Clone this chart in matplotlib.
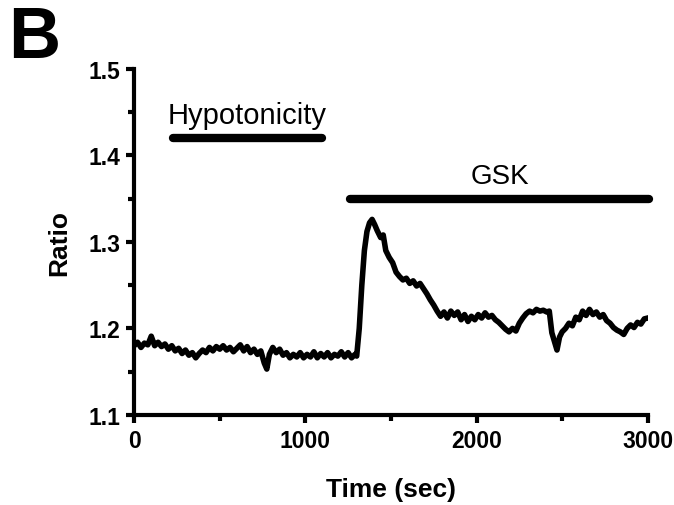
import matplotlib
matplotlib.use("Agg")
import matplotlib.pyplot as plt
from matplotlib.ticker import MultipleLocator

# trace (time in sec, fluorescence ratio)
time_sec = [0, 20, 40, 60, 80, 100, 120, 140, 160, 180, 200, 220, 240, 260, 280, 300,
            320, 340, 360, 380, 400, 420, 440, 460, 480, 500, 520, 540, 560, 580, 600,
            620, 640, 660, 680, 700, 720, 740, 760, 775, 790, 810, 830, 850, 870, 890,
            910, 930, 950, 970, 990, 1010, 1030, 1050, 1070, 1090, 1110, 1130, 1150,
            1170, 1190, 1210, 1230, 1250, 1270, 1290, 1300, 1315, 1330, 1345, 1360,
            1375, 1390, 1405, 1420, 1440, 1455, 1470, 1490, 1510, 1530, 1550, 1570,
            1590, 1610, 1630, 1650, 1670, 1690, 1710, 1730, 1750, 1770, 1790, 1810,
            1830, 1850, 1870, 1890, 1910, 1930, 1950, 1970, 1990, 2010, 2030, 2050,
            2070, 2090, 2110, 2130, 2150, 2170, 2190, 2210, 2230, 2250, 2270, 2290,
            2310, 2330, 2350, 2370, 2390, 2410, 2425, 2440, 2455, 2470, 2485, 2500,
            2520, 2540, 2560, 2580, 2600, 2620, 2640, 2660, 2680, 2700, 2720, 2740,
            2760, 2780, 2800, 2820, 2840, 2860, 2880, 2900, 2920, 2940, 2960, 2980, 3000]
ratio = [1.180, 1.184, 1.178, 1.183, 1.181, 1.191, 1.180, 1.184, 1.179, 1.182, 1.176,
         1.180, 1.174, 1.177, 1.171, 1.175, 1.169, 1.172, 1.166, 1.171, 1.175, 1.172,
         1.178, 1.174, 1.179, 1.176, 1.180, 1.175, 1.178, 1.173, 1.177, 1.181, 1.174,
         1.179, 1.172, 1.176, 1.170, 1.174, 1.160, 1.153, 1.170, 1.178, 1.172, 1.176,
         1.169, 1.172, 1.166, 1.170, 1.167, 1.172, 1.166, 1.170, 1.167, 1.173, 1.166,
         1.171, 1.167, 1.172, 1.166, 1.170, 1.168, 1.173, 1.167, 1.172, 1.166, 1.170,
         1.168, 1.200, 1.250, 1.290, 1.312, 1.322, 1.326, 1.320, 1.313, 1.305, 1.308,
         1.290, 1.282, 1.276, 1.265, 1.260, 1.256, 1.258, 1.252, 1.255, 1.249, 1.252,
         1.246, 1.240, 1.233, 1.227, 1.220, 1.214, 1.219, 1.212, 1.220, 1.215, 1.219,
         1.210, 1.216, 1.208, 1.214, 1.210, 1.216, 1.212, 1.218, 1.213, 1.215, 1.210,
         1.207, 1.203, 1.199, 1.196, 1.200, 1.197, 1.206, 1.212, 1.217, 1.220, 1.218,
         1.222, 1.220, 1.221, 1.219, 1.220, 1.195, 1.185, 1.175, 1.190, 1.196, 1.200,
         1.206, 1.203, 1.213, 1.210, 1.220, 1.215, 1.222, 1.216, 1.219, 1.213, 1.216,
         1.209, 1.206, 1.201, 1.198, 1.196, 1.193, 1.200, 1.204, 1.201, 1.207, 1.205,
         1.211, 1.212]

# treatment bars: (label, start, end, bar level)
treat_names = ["Hypotonicity", "GSK"]
treat_start = [225, 1260]
treat_end = [1095, 3010]
treat_level = [1.42, 1.35]

plt.rcParams['font.family'] = ['Liberation Sans', 'DejaVu Sans']

fig = plt.figure(figsize=(6.74, 5.06), dpi=100)
ax = fig.add_axes([0.199, 0.178, 0.762, 0.684])

ax.plot(time_sec, ratio, color='black', lw=4, solid_joinstyle='round')

for name, s, e, lvl in zip(treat_names, treat_start, treat_end, treat_level):
    ax.plot([s, e], [lvl, lvl], color='black', lw=6, solid_capstyle='round', clip_on=False)
    ax.text((s + e) / 2, lvl + 0.011, name, ha='center', va='bottom',
            fontsize=21 if name == "Hypotonicity" else 20)

ax.set_xlim(0, 3000)
ax.set_ylim(1.1, 1.5)
ax.xaxis.set_major_locator(MultipleLocator(1000))
ax.xaxis.set_minor_locator(MultipleLocator(500))
ax.yaxis.set_major_locator(MultipleLocator(0.1))
ax.yaxis.set_minor_locator(MultipleLocator(0.05))
ax.yaxis.set_major_formatter(plt.FormatStrFormatter('%.1f'))

for sp in ['top', 'right']:
    ax.spines[sp].set_visible(False)
for sp in ['left', 'bottom']:
    ax.spines[sp].set_linewidth(3)

ax.tick_params(which='major', length=6, width=3, labelsize=16.5, pad=4)
ax.tick_params(which='minor', length=4, width=3)
for lab in ax.get_xticklabels() + ax.get_yticklabels():
    lab.set_fontweight('bold')

ax.set_xlabel('Time (sec)', fontsize=19, fontweight='bold', labelpad=18)
ax.set_ylabel('Ratio', fontsize=19, fontweight='bold', labelpad=12)

fig.text(0.012, 0.99, 'B', fontsize=52, fontweight='bold', ha='left', va='top')

fig.savefig('out.png', dpi=100)
